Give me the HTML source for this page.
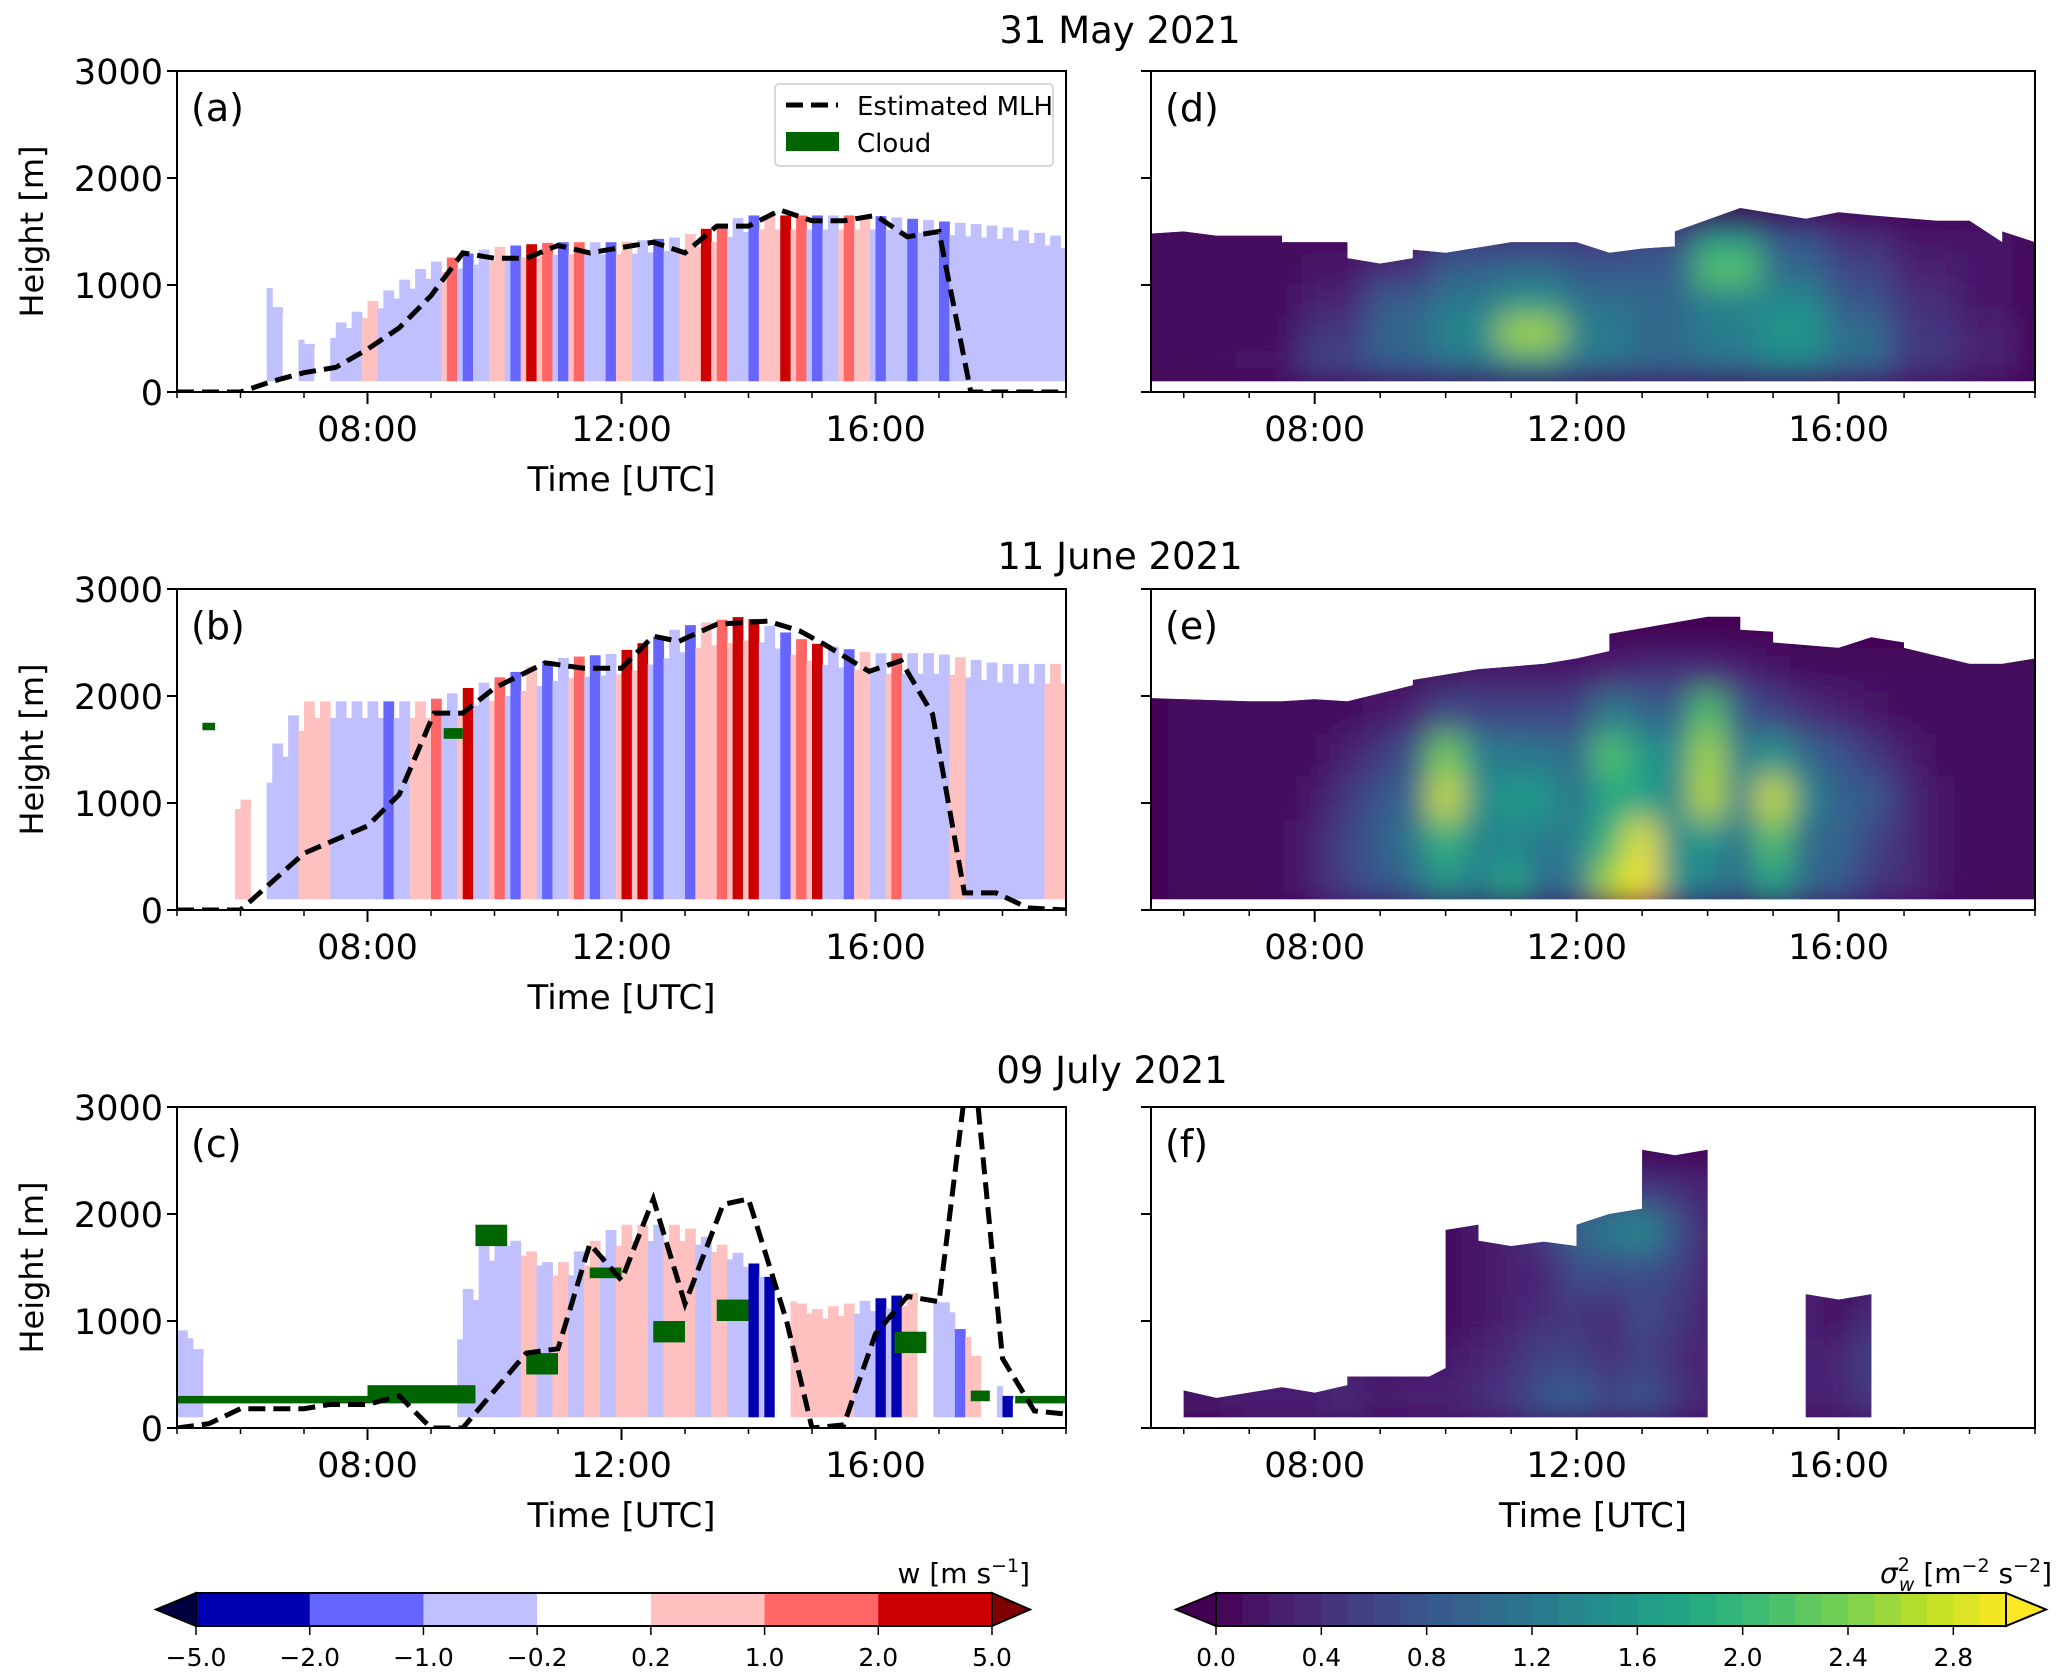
<!DOCTYPE html>
<html><head><meta charset="utf-8"><style>
html,body{margin:0;padding:0;background:#fff}
svg{display:block;font-family:"DejaVu Sans","Liberation Sans",sans-serif}
</style></head><body>
<svg id="fig" xmlns="http://www.w3.org/2000/svg" width="2067" height="1680" viewBox="0 0 2067 1680">
<defs>
<filter id="blur" x="-10%" y="-10%" width="120%" height="120%"><feGaussianBlur stdDeviation="16"/></filter>
</defs>
<rect width="2067" height="1680" fill="#fff"/>
<text x="1120" y="43" font-size="37" text-anchor="middle">31 May 2021</text>
<text x="1120" y="569" font-size="37" text-anchor="middle">11 June 2021</text>
<text x="1112" y="1083" font-size="37" text-anchor="middle">09 July 2021</text>
<g id="root"></g>
</svg>
<script>
// ---------- data ----------
const mlhTimesA=[5,6,6.5,7,7.5,8,8.5,9,9.5,10,10.5,11,11.5,12,12.5,13,13.5,14,14.5,15,15.5,16,16.5,17,17.5,18,19];
const mlhA=[0,0,100,180,230,400,600,900,1300,1250,1250,1370,1300,1350,1400,1300,1550,1550,1700,1600,1600,1650,1450,1500,0,0,0];
const mlhTimesB=[5,6,7,8,8.5,9.05,9.5,10,10.8,11.4,12,12.5,12.9,13.5,14.3,14.8,15.2,15.9,16.4,16.9,17.4,17.9,18.4,19];
const mlhB=[0,0,530,785,1080,1840,1840,2075,2310,2260,2260,2560,2510,2670,2700,2610,2480,2230,2330,1830,160,160,20,0];
const mlhTimesC=[5,5.5,6,7,7.4,8,8.5,9,9.5,9.9,10.5,11,11.5,12,12.5,13,13.6,14,14.6,15,15.5,16,16.5,17,17.4,17.6,18,18.5,19];
const mlhC=[0,40,180,180,220,220,300,0,0,280,700,740,1720,1380,2140,1160,2090,2140,1000,0,30,880,1230,1180,3100,3100,650,160,130];
// w classes per 0.25 h column from 05:00 (-3..3)
const wA=[0,0,0,0,0,0,-1,0, -1,0,-1,-1,1,-1,-1,-1, -1,2,-2,-1,1,-2,3,2, -2,2,-1,-2,1,-1,-2,-1, 1,3,2,-1,-2,1,3,2, -2,-1,2,1,-2,-1,-2,-1, -2,-1,-1,-1,-1,-1,-1,-1];
const wB=[0,0,0,0,1,0,-1,-1, 1,1,-1,-1,-1,-2,-1,1, 2,-1,3,-1,2,-2,1,-2, -1,2,-2,-1,3,3,-2,-1, -2,1,2,3,3,-1,-2,2, 3,-1,-2,1,-1,2,-1,-1, -1,1,-1,-1,-1,-1,-1,1];
const wC=[-1,-1,0,0,0,0,0,0, 0,0,0,0,0,0,0,0, 0,0,-1,-1,-1,-1,1,-1, 1,-1,1,-1,1,1,-1,1, 1,-1,1,-1,-3,-3,0,1, 1,1,1,-1,-3,-3,1,0, -1,-2,1,0,-3,0,0,0];
// data top (m) hourly 05..19
const topA=[1450,1450,400,800,1200,1350,1400,1400,1450,1650,1650,1650,1600,1550,1450];
const topB=[1900,900,1950,1950,1950,2150,2350,2400,2650,2750,2500,2400,2400,2300,2300];
const topC=[1000,300,300,300,300,1900,1500,1900,1900,1600,1100,1200,1300,300,300];
// clouds [t0,t1,h0,h1]
const cloudsC=[[5,8,230,300],[8,9.7,230,400],[9.7,10.2,1700,1900],[10.5,11,500,700],[11.5,12,1400,1500],[12.5,13,800,1000],[13.5,14,1000,1200],[16.3,16.8,700,900],[17.5,17.8,250,350],[18.2,19,230,300]];
const cloudsB=[[5.4,5.6,1680,1750],[9.2,9.5,1600,1700]];
// sigma^2 fields
const sigColsD=[5.3,6.3,7.3,8.3,9.3,10.3,11.3,12.3,13.3,14.3,15.3,16.3,17.3,18.3];
const sigLevD=[250,550,850,1150,1450];
const sigD=[[0.1,0.1,0.2,0.6,0.9,1.1,1.4,1.1,1.0,1.1,1.3,1.0,0.5,0.3],
[0.1,0.1,0.1,0.5,1.0,1.4,2.6,1.3,1.0,1.3,1.6,1.1,0.5,0.3],
[0.1,0.1,0.1,0.3,0.9,1.2,1.5,1.1,1.0,1.3,1.4,0.8,0.4,0.2],
[0.1,0.1,0.1,0.2,0.4,0.9,1.0,0.8,0.9,2.2,1.0,0.6,0.3,0.2],
[0.1,0.1,0.1,0.1,0.2,0.5,0.5,0.5,0.6,1.6,0.8,0.4,0.2,0.2]];
const regionD=[[5.5,1480],[6,1500],[6.5,1460],[7.5,1460],[7.5,1400],[8,1400],[8.5,1400],[8.5,1250],[9,1200],[9.5,1250],[9.5,1330],[10,1300],[11,1400],[12,1400],[12.5,1300],[13,1340],[13.5,1360],[13.5,1500],[14.5,1720],[15.5,1620],[16,1680],[16.5,1650],[17.5,1600],[18,1600],[18.5,1400],[18.5,1500],[19,1400],[19,100],[5.5,100]];
const sigColsE=[6,6.5,7,7.5,8,8.5,9,9.5,10,10.5,11,11.5,12,12.5,13,13.5,14,14.5,15,15.5,16,16.5,17,17.5,18,18.5,19];
const sigLevE=[250,650,1050,1450,1850,2250];
const sigE=[[0.1,0.1,0.1,0.1,0.3,0.6,0.8,1.0,1.6,1.2,1.8,1.0,1.2,2.6,3.0,1.5,1.3,1.0,1.8,1.0,0.9,0.5,0.4,0.2,0.1,0.1,0.1],
[0.1,0.1,0.1,0.1,0.3,0.6,0.9,1.2,2.0,1.3,1.4,1.2,1.3,2.0,2.9,1.4,1.6,1.1,2.2,1.0,1.0,0.6,0.4,0.2,0.1,0.1,0.1],
[0.1,0.1,0.1,0.1,0.2,0.5,0.8,1.0,2.8,1.4,1.6,1.6,1.1,1.8,1.8,1.3,2.7,1.2,2.8,1.4,0.9,0.9,0.4,0.2,0.1,0.1,0.1],
[0.1,0.1,0.1,0.1,0.1,0.3,0.5,0.8,2.4,1.3,1.2,1.2,1.0,2.2,1.6,1.4,2.6,1.2,1.6,1.0,0.8,0.5,0.3,0.1,0.1,0.1,0.1],
[0.1,0.1,0.1,0.1,0.1,0.1,0.2,0.3,0.7,0.6,0.6,0.6,0.6,1.3,1.0,0.9,2.2,0.8,0.6,0.4,0.3,0.2,0.1,0.1,0.1,0.1,0.1],
[0.1,0.1,0.1,0.1,0.1,0.1,0.1,0.1,0.1,0.2,0.2,0.2,0.2,0.3,0.4,0.4,0.4,0.3,0.2,0.1,0.1,0.1,0.1,0.1,0.1,0.1,0.1]];
const regionE=[[5.5,1980],[6,1970],[7,1950],[7.5,1950],[8,1970],[8.5,1950],[9.5,2100],[9.5,2150],[10,2200],[10.5,2250],[11.5,2300],[12,2350],[12.5,2420],[12.5,2580],[14,2740],[14.5,2740],[14.5,2620],[15,2600],[15,2500],[16,2450],[16.5,2550],[17,2500],[17,2450],[18,2300],[18.5,2300],[19,2350],[19,100],[5.5,100]];
const sigColsF=[6,6.5,7,7.5,8,8.5,9,9.5,10,10.5,11,11.5,12,12.5,13,13.5,14,14.5,15,15.5,16,16.5,17];
const sigLevF=[250,650,1050,1450,1850,2250];
const sigF=[[0.2,0.2,0.3,0.3,0.3,0.4,0.2,0.3,0.3,0.4,0.5,0.8,0.9,0.6,0.8,0.5,0.3,0.3,0.3,0.3,0.3,0.5,0.4],
[0.1,0.1,0.1,0.1,0.1,0.2,0.2,0.2,0.2,0.3,0.4,0.6,0.6,0.4,0.6,0.4,0.3,0.3,0.3,0.3,0.3,0.6,0.4],
[0,0,0,0,0,0,0,0,0.1,0.2,0.3,0.4,0.5,0.3,0.7,0.5,0.3,0.3,0.3,0.3,0.1,0.4,0.3],
[0,0,0,0,0,0,0,0,0.1,0.2,0.3,0.3,0.7,0.7,0.7,0.6,0.3,0.3,0.3,0.3,0.1,0.1,0.1],
[0,0,0,0,0,0,0,0,0.1,0.2,0.3,0.5,1.0,1.2,1.4,0.8,0.3,0.3,0.3,0.3,0.1,0.1,0.1],
[0,0,0,0,0,0,0,0,0.1,0.1,0.2,0.3,0.4,0.6,0.5,0.4,0.3,0.3,0.3,0.3,0.1,0.1,0.1]];
const regionF=[[6,350],[6.5,280],[7.5,380],[8,330],[8.5,400],[8.5,480],[9.75,480],[10,560],[10,1850],[10.5,1900],[10.5,1750],[11,1700],[11.5,1740],[12,1700],[12,1900],[12.5,2000],[13,2050],[13,2600],[13.5,2550],[14,2600],[14,100],[6,100]];
const regionF2=[[15.5,1250],[16,1200],[16.5,1250],[16.5,100],[15.5,100]];
const wTicks=["\u22125.0","\u22122.0","\u22121.0","\u22120.2","0.2","1.0","2.0","5.0"];
const sTicks=[0.0,0.4,0.8,1.2,1.6,2.0,2.4,2.8];
const yTicks=[0,1000,2000,3000];
const xTickHours=[8,12,16];

// ---------- helpers ----------
const NS="http://www.w3.org/2000/svg";
const root=document.getElementById('root');
function mk(tag,attrs,parent){const e=document.createElementNS(NS,tag);for(const k in attrs)e.setAttribute(k,attrs[k]);(parent||root).appendChild(e);return e;}
const rowsTop=[71,589,1107], H=321;
const L={x0:177,x1:1066,t0:5,t1:19}, R={x0:1151,x1:2035,t0:5.5,t1:19};
function xs(ax,t){return ax.x0+(t-ax.t0)/(ax.t1-ax.t0)*(ax.x1-ax.x0);}
function ys(row,h){return rowsTop[row]+H-h/3000*H;}
function interp(ts,vs,t){if(t<=ts[0])return vs[0];for(let i=1;i<ts.length;i++){if(t<=ts[i]){const f=(t-ts[i-1])/(ts[i]-ts[i-1]);return vs[i-1]+f*(vs[i]-vs[i-1]);}}return vs[vs.length-1];}
const wColors={"-3":"#0000b0","-2":"#6666ff","-1":"#c0c0ff","0":"#ffffff","1":"#ffc0c0","2":"#ff6666","3":"#cc0000"};
const vir=["#440154","#482475","#414487","#355f8d","#2a788e","#21918c","#22a884","#44bf70","#7ad151","#bddf26","#fde725"];
function hex2(c){return [1,3,5].map(i=>parseInt(c.substr(i,2),16));}
function viridis(v){let f=Math.max(0,Math.min(1,v/3))*10;const i=Math.min(9,Math.floor(f));const a=hex2(vir[i]),b=hex2(vir[i+1]);const u=f-i;return "rgb("+a.map((x,k)=>Math.round(x+(b[k]-x)*u)).join(",")+")";}

// ---------- panels ----------
const hours=[5,6,7,8,9,10,11,12,13,14,15,16,17,18,19];
function wPanel(row,name,classes,tops,mlhT,mlhV,clouds){
  const g=mk('g',{});
  const cp=mk('clipPath',{id:'clip'+name},g);mk('rect',{x:L.x0,y:rowsTop[row],width:L.x1-L.x0,height:H},cp);
  const inner=mk('g',{'clip-path':'url(#clip'+name+')'},g);
  classes.forEach((c,i)=>{
    const t0=5+0.25*i, t1=t0+0.25, tm=t0+0.125;
    const top=interp(hours,tops,tm);
    const nb=classes[Math.min(classes.length-1,i+1)];
    const xa=xs(L,t0), xb=xs(L,t1), w=xb-xa;
    const r=mk('rect',{x:xa,y:ys(row,top),width:w*0.65+0.5,height:ys(row,100)-ys(row,top),fill:wColors[c]},inner);
    
    const r2=mk('rect',{x:xa+w*0.65,y:ys(row,top*0.92),width:w*0.35+0.5,height:ys(row,100)-ys(row,top*0.92),fill:wColors[Math.sign(nb)*Math.min(1,Math.abs(nb))]},inner);
    
  });
  (clouds||[]).forEach(c=>{const r=mk('rect',{x:xs(L,c[0]),y:ys(row,c[3]),width:xs(L,c[1])-xs(L,c[0]),height:ys(row,c[2])-ys(row,c[3]),fill:'#006400'},inner);
    });
  const pts=mlhT.map((t,i)=>xs(L,t).toFixed(1)+','+ys(row,mlhV[i]).toFixed(1)).join(' ');
  const pl=mk('polyline',{points:pts,fill:'none',stroke:'#000','stroke-width':5,'stroke-dasharray':'17,8'},inner);
  
}
function sPanel(row,name,cols,levs,vals,regions,dlev){
  const g=mk('g',{});
  const cp=mk('clipPath',{id:'sclip'+name},g);
  regions.forEach(reg=>mk('polygon',{points:reg.map(p=>xs(R,p[0]).toFixed(1)+','+ys(row,p[1]).toFixed(1)).join(' ')},cp));
  const inner=mk('g',{'clip-path':'url(#sclip'+name+')'},g);
  mk('rect',{x:R.x0,y:rowsTop[row],width:R.x1-R.x0,height:H,fill:'#440154'},inner);
  const bl=mk('g',{filter:'url(#blur)'},inner);
  const dt=cols[1]-cols[0];
  levs.forEach((lv,j)=>cols.forEach((t,i)=>{
    const v=vals[j][i];
    const r=mk('rect',{x:xs(R,t-dt/2),y:ys(row,lv+dlev/2),width:xs(R,t+dt/2)-xs(R,t-dt/2)+0.5,height:ys(row,lv-dlev/2)-ys(row,lv+dlev/2)+0.5,fill:viridis(v)},bl);
    
  }));
}
function axes(ax,row,letter,showYLabels,showXTitle){
  const g=mk('g',{});
  const y0=rowsTop[row],y1=y0+H;
  mk('rect',{x:ax.x0,y:y0,width:ax.x1-ax.x0,height:H,fill:'none',stroke:'#000','stroke-width':2},g);
  for(let h=Math.ceil(ax.t0);h<=ax.t1;h++){const x=xs(ax,h);const major=xTickHours.includes(h);
    mk('line',{x1:x,y1:y1,x2:x,y2:y1+(major?12:6),stroke:'#000','stroke-width':major?2:1.5},g);}
  xTickHours.forEach(h=>{const t=mk('text',{x:xs(ax,h),y:y1+49,'font-size':35,'text-anchor':'middle'},g);t.textContent=(h<10?'0':'')+h+':00';
    });
  yTicks.forEach(v=>{const y=ys(row,v);mk('line',{x1:ax.x0-10,y1:y,x2:ax.x0,y2:y,stroke:'#000','stroke-width':2},g);
    if(showYLabels){const t=mk('text',{x:ax.x0-14,y:y+13,'font-size':35,'text-anchor':'end'},g);t.textContent=v;
      }});
  if(showYLabels){const t=mk('text',{x:0,y:0,'font-size':32,'text-anchor':'middle',transform:'translate(43,'+(y0+H/2)+') rotate(-90)'},g);t.textContent='Height [m]';
    }
  if(showXTitle){const t=mk('text',{x:(ax.x0+ax.x1)/2,y:y1+99,'font-size':34,'text-anchor':'middle'},g);t.textContent='Time [UTC]';
    }
  const lb=mk('text',{x:ax.x0+14,y:y0+50,'font-size':38},g);lb.textContent='('+letter+')';
  
}
wPanel(0,'a',wA,topA,mlhTimesA,mlhA,[]);
wPanel(1,'b',wB,topB,mlhTimesB,mlhB,cloudsB);
wPanel(2,'c',wC,topC,mlhTimesC,mlhC,cloudsC);
sPanel(0,'d',sigColsD,sigLevD,sigD,[regionD],300);
sPanel(1,'e',sigColsE,sigLevE,sigE,[regionE],400);
sPanel(2,'f',sigColsF,sigLevF,sigF,[regionF,regionF2],400);
axes(L,0,'a',true,true);axes(L,1,'b',true,true);axes(L,2,'c',true,true);
axes(R,0,'d',false,false);axes(R,1,'e',false,false);axes(R,2,'f',false,true);

// legend
const lg=mk('g',{});
mk('rect',{x:775,y:84,width:278,height:82,rx:4,fill:'#fff',stroke:'#ccc','stroke-width':1.5},lg);
mk('line',{x1:786,y1:105,x2:838,y2:105,stroke:'#000','stroke-width':5,'stroke-dasharray':'17,8'},lg);
mk('rect',{x:786,y:132,width:53,height:19,fill:'#006400'},lg);
let tt=mk('text',{x:857,y:115,'font-size':26},lg);tt.textContent='Estimated MLH';
tt=mk('text',{x:857,y:152,'font-size':26},lg);tt.textContent='Cloud';

// colorbars
const cb1=mk('g',{});
const cbY0=1593,cbY1=1626,cbM=(cbY0+cbY1)/2;
const c1x0=196,c1x1=992,bw=(c1x1-c1x0)/7;
mk('polygon',{points:`${c1x0},${cbY0} 156,${cbM} ${c1x0},${cbY1}`,fill:'#000040',stroke:'#000','stroke-width':2},cb1);
mk('polygon',{points:`${c1x1},${cbY0} 1030,${cbM} ${c1x1},${cbY1}`,fill:'#800000',stroke:'#000','stroke-width':2},cb1);
[-3,-2,-1,0,1,2,3].forEach((c,i)=>mk('rect',{x:c1x0+i*bw,y:cbY0,width:bw+0.5,height:cbY1-cbY0,fill:wColors[c]},cb1));
mk('rect',{x:c1x0,y:cbY0,width:c1x1-c1x0,height:cbY1-cbY0,fill:'none',stroke:'#000','stroke-width':2},cb1);
wTicks.forEach((s,i)=>{const x=c1x0+i*bw;mk('line',{x1:x,y1:cbY1,x2:x,y2:cbY1+9,stroke:'#000','stroke-width':1.5},cb1);
  const t=mk('text',{x:x,y:1666,'font-size':25,'text-anchor':'middle'},cb1);t.textContent=s;});
tt=mk('text',{x:1030,y:1583,'font-size':28,'text-anchor':'end'},cb1);
tt.innerHTML='w [m s<tspan dy="-11" font-size="19">\u22121</tspan><tspan dy="11">]</tspan>';

const cb2=mk('g',{});
const c2x0=1216,c2x1=2006;
mk('polygon',{points:`${c2x0},${cbY0} 1176,${cbM} ${c2x0},${cbY1}`,fill:'#440154',stroke:'#000','stroke-width':2},cb2);
mk('polygon',{points:`${c2x1},${cbY0} 2046,${cbM} ${c2x1},${cbY1}`,fill:'#fde725',stroke:'#000','stroke-width':2},cb2);
for(let i=0;i<30;i++){const w=(c2x1-c2x0)/30;mk('rect',{x:c2x0+i*w,y:cbY0,width:w+0.5,height:cbY1-cbY0,fill:viridis(i*0.1+0.05)},cb2);}
mk('rect',{x:c2x0,y:cbY0,width:c2x1-c2x0,height:cbY1-cbY0,fill:'none',stroke:'#000','stroke-width':2},cb2);
sTicks.forEach(v=>{const x=c2x0+v/3*(c2x1-c2x0);mk('line',{x1:x,y1:cbY1,x2:x,y2:cbY1+9,stroke:'#000','stroke-width':1.5},cb2);
  const t=mk('text',{x:x,y:1666,'font-size':25,'text-anchor':'middle'},cb2);t.textContent=v.toFixed(1);});
tt=mk('text',{x:2052,y:1583,'font-size':28,'text-anchor':'end'},cb2);
tt.innerHTML='<tspan font-style="italic">\u03C3</tspan><tspan dy="-12" font-size="19">2</tspan><tspan dx="-11" dy="20" font-size="19" font-style="italic">w</tspan><tspan dy="-8"> [m</tspan><tspan dy="-11" font-size="19">\u22122</tspan><tspan dy="11"> s</tspan><tspan dy="-11" font-size="19">\u22122</tspan><tspan dy="11">]</tspan>';
</script>
</body></html>
